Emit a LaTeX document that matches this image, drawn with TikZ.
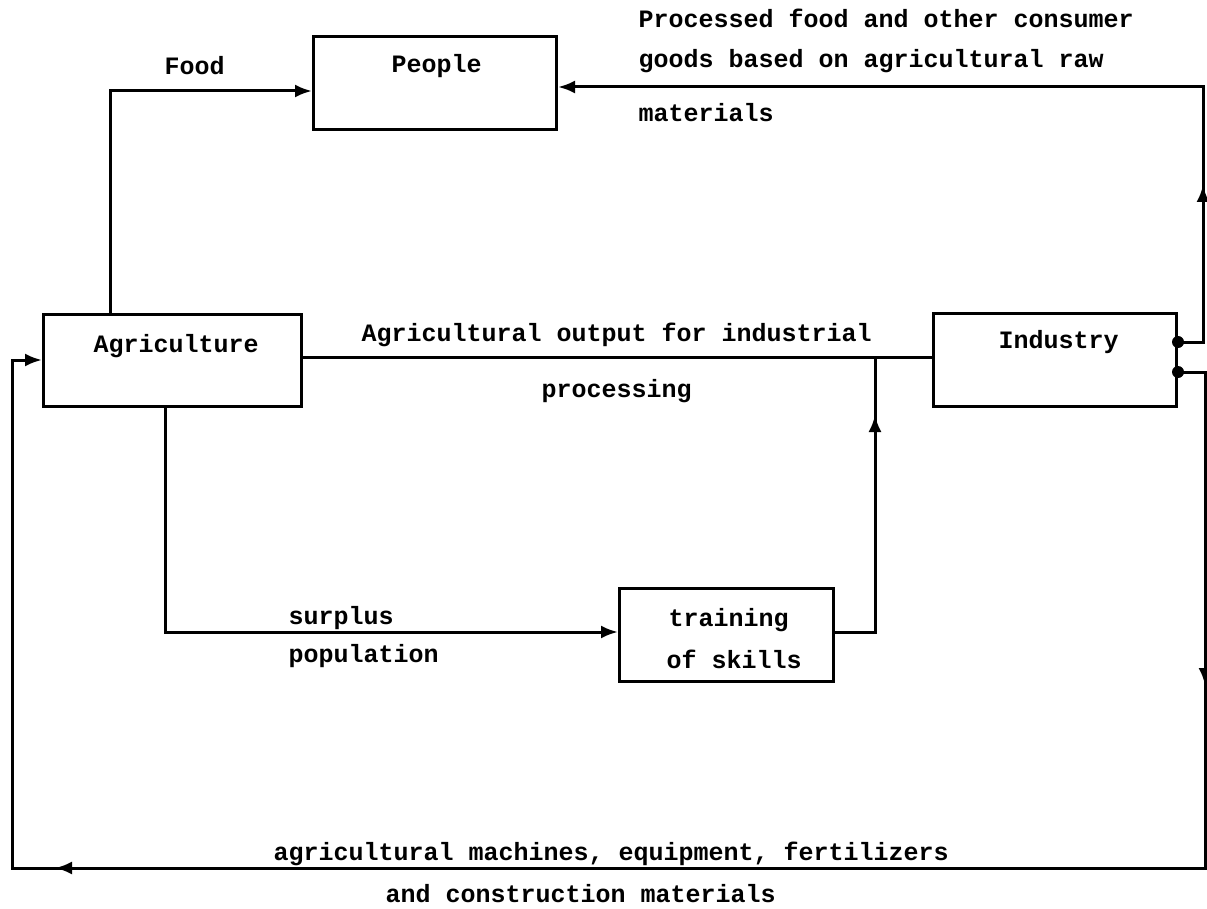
\documentclass[tikz,border=0pt]{standalone}
\usepackage{fontspec}
\newfontfamily\tw{Liberation Mono}
\usetikzlibrary{arrows.meta}
\begin{document}
\begin{tikzpicture}[x=1pt,y=-1pt,line width=3pt,
  box/.style={draw,line width=3pt,inner sep=0pt,anchor=north west},
  lbl/.style={font=\tw\bfseries\fontsize{25}{30}\selectfont,anchor=base west,inner sep=0pt},
  tip/.style={-{Latex[length=17pt,width=13pt]}},
  blob/.style={fill,circle,inner sep=0pt,minimum size=12pt}]
\useasboundingbox (0,0) rectangle (1207,909);

% boxes
\node[box,minimum width=243pt,minimum height=93pt] (people) at (312,35) {};
\node[box,minimum width=258pt,minimum height=92pt] (agri) at (42,313) {};
\node[box,minimum width=243pt,minimum height=93pt] (ind) at (932,312) {};
\node[box,minimum width=214pt,minimum height=93pt] (train) at (618,587) {};

% box texts
\node[lbl] (tpeople) at (390,73) {People};
\node[lbl] (tagri) at (92,352) {Agriculture};
\node[lbl] (tind) at (997,348) {Industry};
\node[lbl] (ttrain1) at (667,626) {training};
\node[lbl] (ttrain2) at (665,668) {of skills};

% routing points
\coordinate (f1) at (110,91);
\coordinate (r1) at (1203,342);
\coordinate (r2) at (1203,87);
\coordinate (ru) at (1203,185);
\coordinate (j) at (875,357);
\coordinate (t1) at (875,632);
\coordinate (tu) at (875,415);
\coordinate (s1) at (165,632);
\coordinate (d1) at (1205,372);
\coordinate (d2) at (1205,868);
\coordinate (dm) at (1205,685);
\coordinate (d3) at (12,868);
\coordinate (lm) at (55,868);
\coordinate (d4) at (12,360);

% food to people
\draw[tip] (agri.north west -| f1) -- (f1) -- (f1 -| people.west);
% consumer goods back to people
\draw[tip] (ind.east |- r1) -- (r1) -- (r2) -- (r2 -| people.east);
\draw[tip] (r1) -- (ru);
% agricultural output to industry
\draw (agri.east |- j) -- (ind.west |- j);
% surplus population to training
\draw[tip] (agri.south west -| s1) -- (s1) -- (train.west |- s1);
% trained labour joins the flow to industry
\draw (train.east |- t1) -- (t1) -- (j);
\draw[tip] (t1) -- (tu);
% inputs back to agriculture
\draw[tip] (ind.east |- d1) -- (d1) -- (d2) -- (d3) -- (d4) -- (agri.west |- d4);
\draw[tip] (d1) -- (dm);
\draw[tip] (d2) -- (lm);

% outlet blobs on industry
\node[blob] (o1) at (ind.east |- r1) {};
\node[blob] (o2) at (ind.east |- d1) {};

% connector labels
\node[lbl] (lfood) at (163,75) {Food};
\node[lbl] (lproc1) at (637,28) {Processed food and other consumer};
\node[lbl] (lproc2) at (637,68) {goods based on agricultural raw};
\node[lbl] (lproc3) at (637,122) {materials};
\node[lbl] (lout1) at (360,341) {Agricultural output for industrial};
\node[lbl] (lout2) at (540,397) {processing};
\node[lbl] (lsur1) at (287,624) {surplus};
\node[lbl] (lsur2) at (287,662) {population};
\node[lbl] (lmach1) at (272,860) {agricultural machines, equipment, fertilizers};
\node[lbl] (lmach2) at (384,902) {and construction materials};
\end{tikzpicture}
\end{document}
